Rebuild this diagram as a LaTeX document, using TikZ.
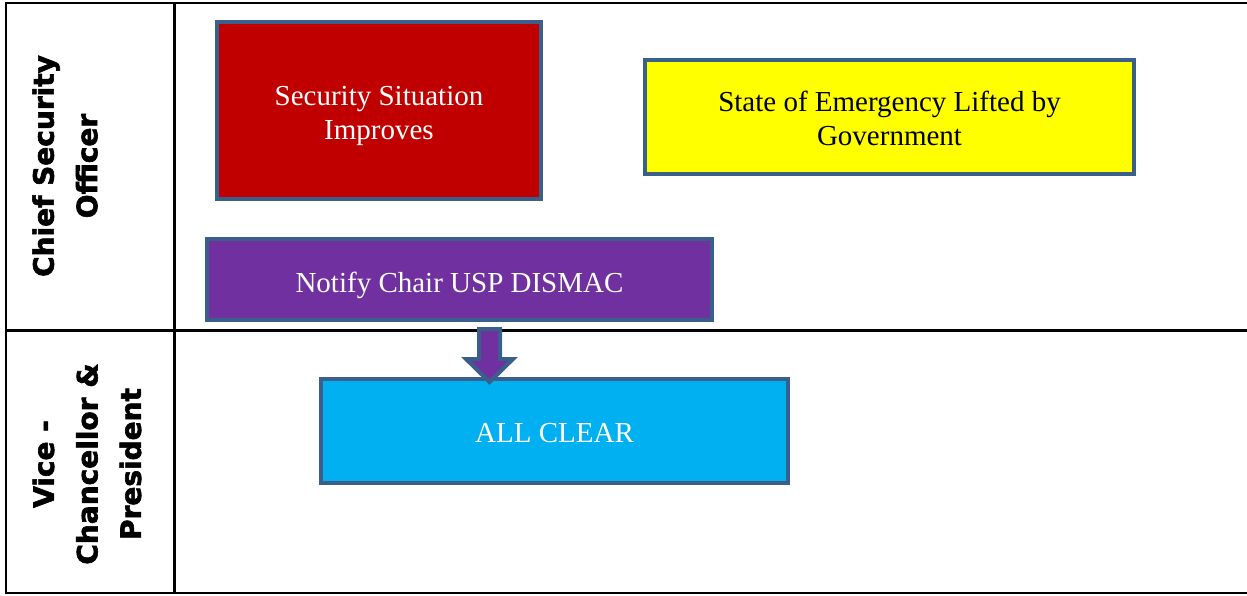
\documentclass[tikz,border=0pt]{standalone}
\usepackage{fontspec}
\setmainfont{Liberation Serif}
\newfontfamily\lanefont{DejaVu Sans}[BoldFeatures={FakeBold=2.2}]
\usetikzlibrary{calc}

\definecolor{edgeblue}{HTML}{3A5F8B}
\definecolor{alarmred}{HTML}{C00000}
\definecolor{noticeyellow}{HTML}{FFFF00}
\definecolor{actionpurple}{HTML}{7030A0}
\definecolor{clearcyan}{HTML}{00B0F0}

% centred block of lines, lowered a little inside its box (box size kept)
\newcommand{\steptext}[2][0pt]{\raisebox{-#1}[\height][\depth]{\begin{tabular}{@{}c@{}}#2\end{tabular}}}

\begin{document}
\begin{tikzpicture}[x=1pt,y=-1pt,
  stepbox/.style={draw=edgeblue, line width=4pt, align=center, inner sep=0pt,
                  font=\fontsize{29}{34}\selectfont},
  lane/.style={rotate=90, align=center, inner sep=0pt,
               font=\lanefont\bfseries\fontsize{28}{43.5}\selectfont},
  frame/.style={line width=2.5pt, line cap=rect},
  blockarrow/.style={draw=edgeblue, line width=4pt, fill=actionpurple, line join=miter}]
\useasboundingbox (0,0) rectangle (1247,595);

% swimlane grid
\coordinate (tl) at (6,3);
\coordinate (bl) at (6,593);
\coordinate (tr) at (1247,3);
\coordinate (br) at (1247,593);
\coordinate (lanesplit) at (174.5,0);
\coordinate (rowsplit) at (0,330.5);
\draw[frame] (tr) -- (tl) -- (bl) -- (br);
\draw[frame] (tl -| lanesplit) -- (bl -| lanesplit);
\draw[frame] (tl |- rowsplit) -- (tr |- rowsplit);

% lane titles
\node[lane] (cso) at (65,166) {Chief Security\\Officer};
\node[lane] (vcp) at (87,464) {Vice -\\Chancellor \&\\President};

% process steps
\node[stepbox, fill=alarmred, text=white, minimum width=324pt, minimum height=177pt]
  (improves) at (379,110.5) {\steptext[5.5pt]{Security Situation\\Improves}};
\node[stepbox, fill=noticeyellow, text=black, minimum width=489pt, minimum height=114pt]
  (lifted) at (889.5,117) {\steptext[4.5pt]{State of Emergency Lifted by\\Government}};
\node[stepbox, fill=actionpurple, text=white, minimum width=505pt, minimum height=81pt]
  (notify) at (459.5,279.5) {\steptext[6pt]{Notify Chair USP DISMAC}};
\node[stepbox, fill=clearcyan, text=white, minimum width=467pt, minimum height=104pt]
  (clear) at (554.5,431) {\steptext[5pt]{ALL CLEAR}};

% block arrow from notification to all clear
\coordinate (ax) at (489.5,0);
\draw[blockarrow]
  ($(notify.south -| ax)+(-10.5,7)$) -- ($(clear.north -| ax)+(-10.5,-18)$)
  -- ++(-13,0) -- ($(clear.north -| ax)+(0,5)$)
  -- ($(clear.north -| ax)+(23.5,-18)$) -- ++(-13,0)
  -- ($(notify.south -| ax)+(10.5,7)$) -- cycle;
\end{tikzpicture}
\end{document}
